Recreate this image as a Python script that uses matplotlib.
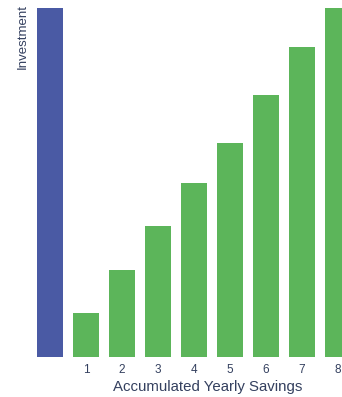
import matplotlib
matplotlib.use("Agg")
import matplotlib.pyplot as plt

# values (investment vs accumulated savings per year)
investment = 8.0
years = [1, 2, 3, 4, 5, 6, 7, 8]
savings = [1.0, 2.0, 3.0, 4.0, 4.9, 6.0, 7.1, 8.0]

BLUE = "#4a5aa4"
GREEN = "#5cb55a"
TEXT = "#34405f"

plt.rcParams["font.family"] = ["Liberation Sans", "DejaVu Sans"]

fig = plt.figure(figsize=(3.42, 3.97), dpi=100)
ax = fig.add_axes([0, 40 / 397, 1, 357 / 397])

ax.bar(0, investment, width=0.72, color=BLUE)
ax.bar(years, savings, width=0.72, color=GREEN)

ax.set_xlim(-50 / 36, 292 / 36)
ax.set_ylim(0, 8 * 357 / 349)

for s in ax.spines.values():
    s.set_visible(False)
ax.set_yticks([])
ax.set_xticks(years)
ax.set_xticklabels([str(y) for y in years], fontsize=8.5, color=TEXT)
ax.tick_params(axis="x", length=0, pad=5)
ax.set_xlabel("Accumulated Yearly Savings", fontsize=10.8, color=TEXT)
ax.xaxis.set_label_coords(208 / 342, -23 / 357)

fig.text(23 / 342, 1 - 4 / 397, "Investment", rotation=90, fontsize=9.5,
         color=TEXT, ha="center", va="top")

plt.savefig("out.png", dpi=100)
